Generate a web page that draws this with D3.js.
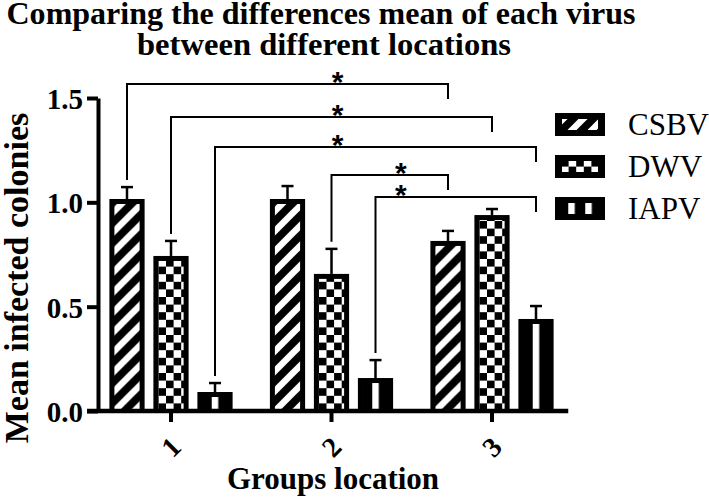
<!DOCTYPE html>
<html><head><meta charset="utf-8">
<script src="https://cdn.jsdelivr.net/npm/d3@7"></script>
<style>body{margin:0;background:#fff}</style>
</head><body><svg id="c" width="709" height="502"></svg>
<script>
// ---- data ----
const groups = ["1", "2", "3"];
const series = ["CSBV", "DWV", "IAPV"];
const csbvMean = [1.016, 1.016, 0.815];
const dwvMean  = [0.743, 0.657, 0.939];
const iapvMean = [0.091, 0.158, 0.441];
const csbvErr  = [0.057, 0.062, 0.048];
const dwvErr   = [0.072, 0.120, 0.029];
const iapvErr  = [0.043, 0.086, 0.062];
const yTicks = [0, 0.5, 1.0, 1.5];
const brackets = [
  {g1: "1", s1: "CSBV", g2: "3", s2: "CSBV", level: 1.567, label: "*"},
  {g1: "1", s1: "DWV",  g2: "3", s2: "DWV",  level: 1.409, label: "*"},
  {g1: "1", s1: "IAPV", g2: "3", s2: "IAPV", level: 1.265, label: "*"},
  {g1: "2", s1: "DWV",  g2: "3", s2: "CSBV", level: 1.131, label: "*"},
  {g1: "2", s1: "IAPV", g2: "3", s2: "IAPV", level: 1.026, label: "*"}
];
const titleLines = ["Comparing the differences mean of each virus", "between different locations"];
const xTitle = "Groups location";
const yTitle = "Mean infected colonies";

const means = {CSBV: csbvMean, DWV: dwvMean, IAPV: iapvMean};
const errs = {CSBV: csbvErr, DWV: dwvErr, IAPV: iapvErr};

const svg = d3.select("#c");
const defs = svg.append("defs");
const serif = "'Liberation Serif','Times New Roman',serif";

const x = d3.scaleBand().domain(groups).range([90.75, 572.25]).padding(0);
const xs = d3.scaleBand().domain(series).range([-66, 66]).paddingInner(0.2).paddingOuter(0.1);
const y = d3.scaleLinear().domain([0, 1.5]).range([411, 98]);
const gc = g => x(g) + x.bandwidth() / 2;
const bc = (g, s) => gc(g) + xs(s) + xs.bandwidth() / 2;

let pid = 0;
function makePattern(type, x0, y0) {
  const id = "p" + (pid++);
  if (type === "CSBV") {
    const P = 20;
    const p = defs.append("pattern").attr("id", id).attr("patternUnits", "userSpaceOnUse")
      .attr("x", x0).attr("y", y0).attr("width", P).attr("height", P);
    p.append("rect").attr("width", P).attr("height", P).attr("fill", "#000");
    p.append("path").attr("d", `M-5,${P + 5}L${P + 5},-5 M-5,5L5,-5 M${P - 5},${P + 5}L${P + 5},${P - 5}`)
      .attr("stroke", "#fff").attr("stroke-width", 6.5);
  } else if (type === "DWV") {
    const S = 7.6;
    const p = defs.append("pattern").attr("id", id).attr("patternUnits", "userSpaceOnUse")
      .attr("x", x0).attr("y", y0).attr("width", 2 * S).attr("height", 2 * S);
    p.append("rect").attr("width", 2 * S).attr("height", 2 * S).attr("fill", "#000");
    p.append("rect").attr("width", S).attr("height", S).attr("fill", "#fff");
    p.append("rect").attr("x", S).attr("y", S).attr("width", S).attr("height", S).attr("fill", "#fff");
  } else {
    const P = 17;
    const p = defs.append("pattern").attr("id", id).attr("patternUnits", "userSpaceOnUse")
      .attr("x", x0).attr("y", y0).attr("width", P).attr("height", 40);
    p.append("rect").attr("width", P).attr("height", 40).attr("fill", "#000");
    p.append("rect").attr("x", 0).attr("width", 6.5).attr("height", 40).attr("fill", "#fff");
  }
  return "url(#" + id + ")";
}

// ---- bars ----
const barData = [];
groups.forEach((g, gi) => series.forEach(s => barData.push({g, s, v: means[s][gi], e: errs[s][gi]})));
const bw = xs.bandwidth();
const inset = 5;
const bars = svg.append("g");
barData.forEach(d => {
  const bx = x(d.g) + x.bandwidth() / 2 + xs(d.s);
  const top = y(d.v), bot = y(0);
  bars.append("line").attr("x1", bx + bw / 2).attr("x2", bx + bw / 2)
    .attr("y1", top).attr("y2", y(d.v + d.e)).attr("stroke", "#000").attr("stroke-width", 2.5);
  bars.append("line").attr("x1", bx + bw / 2 - 6).attr("x2", bx + bw / 2 + 6)
    .attr("y1", y(d.v + d.e)).attr("y2", y(d.v + d.e)).attr("stroke", "#000").attr("stroke-width", 2.5);
  bars.append("rect").attr("x", bx).attr("y", top).attr("width", bw).attr("height", bot - top).attr("fill", "#000");
  const ih = bot - top - inset;
  if (ih > 0) {
    const px = d.s === "IAPV" ? bx + bw / 2 - 3.25 : bx + inset;
    bars.append("rect").attr("x", bx + inset).attr("y", top + inset).attr("width", bw - 2 * inset)
      .attr("height", ih).attr("fill", makePattern(d.s, px, bot));
  }
});

// ---- axes ----
const yAxis = svg.append("g").attr("transform", "translate(98,0)")
  .call(d3.axisLeft(y).tickValues(yTicks).tickFormat(d3.format(".1f")).tickSize(11).tickSizeOuter(0).tickPadding(4));
yAxis.select(".domain").attr("stroke-width", 4).attr("stroke", "#000");
yAxis.selectAll(".tick line").attr("stroke-width", 4).attr("stroke", "#000");
yAxis.selectAll(".tick text").attr("font-family", serif).attr("font-weight", "bold")
  .attr("font-size", 29).attr("fill", "#000").attr("dy", "0.36em");

const xAxis = svg.append("g").attr("transform", "translate(0,411)")
  .call(d3.axisBottom(x).tickSize(11).tickSizeOuter(0).tickFormat(() => ""));
xAxis.select(".domain").remove();
xAxis.selectAll(".tick line").attr("stroke-width", 4).attr("stroke", "#000");
svg.append("line").attr("x1", 87).attr("x2", x.range()[1] - 4).attr("y1", y(0)).attr("y2", y(0))
  .attr("stroke", "#000").attr("stroke-width", 4.5);
svg.append("g").selectAll("text").data(groups).join("text")
  .attr("transform", g => `translate(${gc(g)},447) rotate(-45)`)
  .attr("text-anchor", "middle").attr("dominant-baseline", "central")
  .attr("font-family", serif).attr("font-weight", "bold").attr("font-size", 28).text(g => g);

// ---- brackets ----
const br = svg.append("g");
brackets.forEach(b => {
  const x1 = bc(b.g1, b.s1), x2 = bc(b.g2, b.s2);
  const gi1 = groups.indexOf(b.g1);
  const yLeft = y(means[b.s1][gi1] + errs[b.s1][gi1]) - 7;
  const yl = y(b.level);
  br.append("path").attr("d", `M${x1},${yLeft}V${yl}H${x2}V${yl + 15}`)
    .attr("fill", "none").attr("stroke", "#000").attr("stroke-width", 2);
  const spansMid = groups.indexOf(b.g2) - gi1 > 1;
  const sx = spansMid ? gc("2") + 6 : (gc(b.g1) + gc(b.g2)) / 2 - 11;
  br.append("text").attr("x", sx).attr("y", yl + 8).attr("text-anchor", "middle")
    .attr("font-family", "'Liberation Sans',Arial,sans-serif").attr("font-weight", "bold")
    .attr("font-size", 30).text(b.label);
});

// ---- legend ----
const lg = svg.append("g");
series.forEach((s, i) => {
  const ly = 113 + i * 42;
  lg.append("rect").attr("x", 555).attr("y", ly).attr("width", 50).attr("height", 23).attr("fill", "#000");
  let px = 563;
  if (s === "IAPV") px = 580 - 8.5 - 3.25;
  if (s === "DWV") px = 580 - 7.6 * 1.5;
  lg.append("rect").attr("x", 562).attr("y", ly + 6).attr("width", 36).attr("height", 11)
    .attr("fill", makePattern(s, px, s === "DWV" ? ly + 4 : ly + 6));
  lg.append("text").attr("x", 628).attr("y", ly + 21.5).attr("font-family", serif)
    .attr("font-size", 31).text(s);
});

// ---- titles ----
const tw = [629, 374];
titleLines.forEach((t, i) => {
  svg.append("text").attr("x", i === 0 ? 321 : 324).attr("y", i === 0 ? 24 : 55)
    .attr("text-anchor", "middle").attr("font-family", serif).attr("font-weight", "bold")
    .attr("font-size", 31).attr("textLength", tw[i]).attr("lengthAdjust", "spacingAndGlyphs").text(t);
});
svg.append("text").attr("x", 333).attr("y", 489).attr("text-anchor", "middle")
  .attr("font-family", serif).attr("font-weight", "bold").attr("font-size", 31).text(xTitle);
svg.append("text").attr("transform", "translate(28,278) rotate(-90)").attr("text-anchor", "middle")
  .attr("font-family", serif).attr("font-weight", "bold").attr("font-size", 34).text(yTitle);
</script></body></html>
